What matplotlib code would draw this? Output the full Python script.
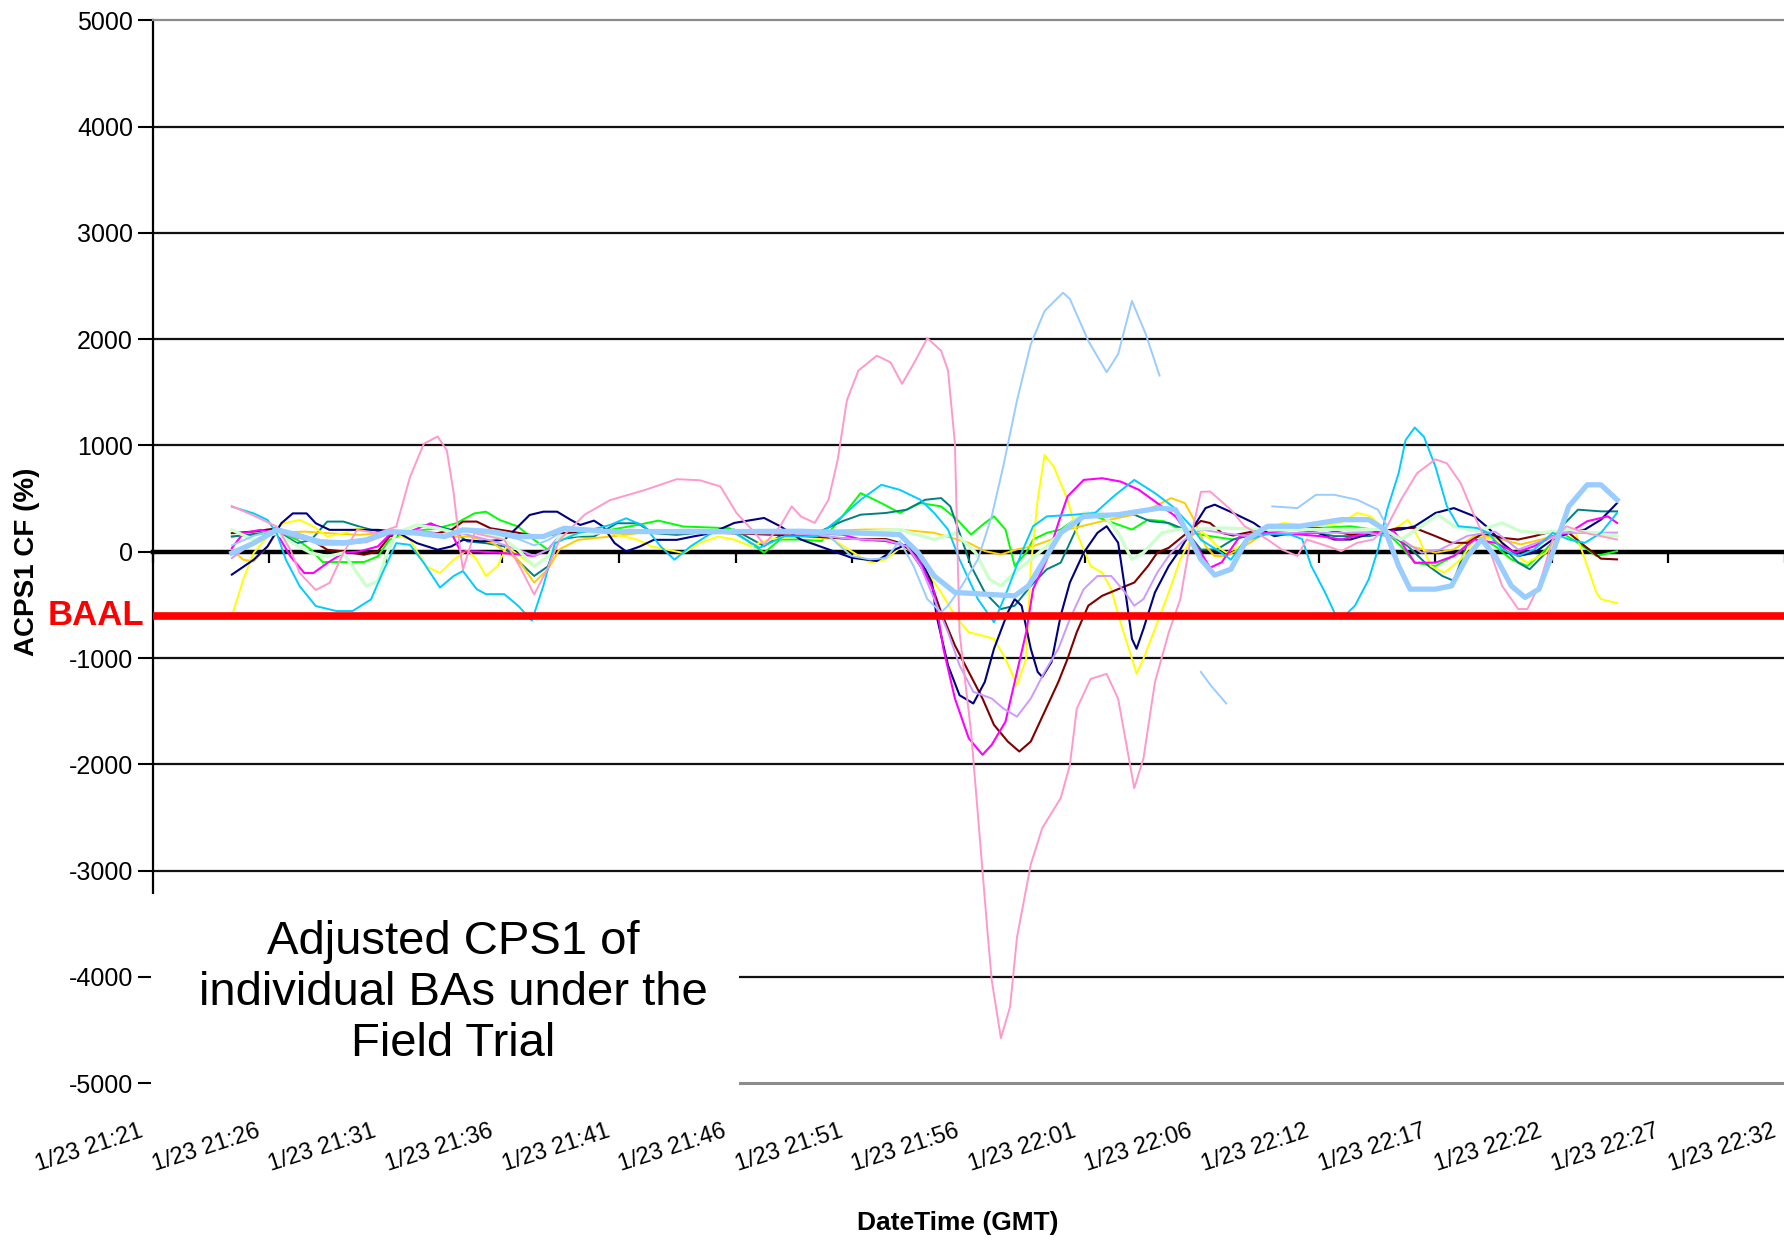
import numpy as np
import matplotlib
matplotlib.use("Agg")
import matplotlib.pyplot as plt
from matplotlib.patches import Rectangle
from matplotlib.transforms import blended_transform_factory, ScaledTranslation

plt.rcParams["font.family"] = ["Liberation Sans", "DejaVu Sans"]

# ============================================================
# DATA  (x = minutes after 1/23 21:21 GMT, y = ACPS1 CF %)
# ============================================================

tick_labels = [
    "1/23 21:21", "1/23 21:26", "1/23 21:31", "1/23 21:36", "1/23 21:41",
    "1/23 21:46", "1/23 21:51", "1/23 21:56", "1/23 22:01", "1/23 22:06",
    "1/23 22:12", "1/23 22:17", "1/23 22:22", "1/23 22:27", "1/23 22:32",
]
span_minutes = 71

baal = -600

nan = float("nan")

pink = [(3.45, 430), (4.4, 340), (5.4, 237), (6.0, 19), (6.4, -200), (7.1, -360), (7.7, -293),
        (8.3, -12), (8.9, 206), (9.8, 175), (10.6, 237), (11.2, 704), (11.8, 1016), (12.4, 1085),
        (12.8, 954), (13.1, 549), (13.4, -12), (13.5, -168), (14.0, 175), (15.3, 112), (16.0, -150),
        (16.6, -402), (17.2, -150), (17.7, 112), (18.8, 350), (19.9, 486), (21.4, 580), (22.8, 683),
        (23.8, 673), (24.7, 614), (25.4, 365), (26.2, 178), (26.6, 69), (27.3, 240), (27.8, 427),
        (28.2, 333), (28.8, 271), (29.4, 489), (29.8, 863), (30.2, 1424), (30.7, 1705), (31.5, 1845),
        (32.1, 1783), (32.6, 1580), (33.1, 1767), (33.7, 2010), (34.3, 1892), (34.6, 1705),
        (34.9, 1019), (35.1, -757), (35.6, -1693), (35.9, -2475), (36.1, -3001), (36.3, -3534),
        (36.5, -4030), (36.9, -4578), (37.3, -4282), (37.6, -3628), (38.2, -2942), (38.7, -2600),
        (39.5, -2319), (39.9, -2007), (40.2, -1477), (40.8, -1197), (41.5, -1150), (42.0, -1384),
        (42.7, -2225), (43.1, -1945), (43.6, -1228), (44.2, -760), (44.7, -449), (45.2, 175),
        (45.6, 564), (46.0, 567), (46.9, 396), (47.5, 240), (48.5, 115), (49.1, 22), (49.8, -40),
        (50.2, 115), (51.1, 53), (51.7, 6), (52.4, 84), (53.1, 115), (53.7, 240), (54.3, 489),
        (55.0, 739), (55.8, 870), (56.3, 832), (56.9, 645), (57.5, 334), (58.1, 53), (58.7, -321),
        (59.4, -539), (59.8, -539), (60.3, -321), (60.9, 115), (61.5, 240), (62.3, 178), (63.7, 115)]

lightblue = [(3.45, 60), (4.4, 150), (5.4, 210), (6.3, 170), (7.3, 110), (8.3, 100), (9.3, 120),
             (10.3, 200), (11.5, 190), (12.7, 150), (13.5, 200), (14.8, 170), (15.9, 120), (16.6, 60),
             (17.2, 110), (17.9, 200), (19.9, 190), (22.8, 190), (25.1, 190), (28.2, 190), (29.4, 150),
             (30.4, -40), (31.2, -72), (31.9, -60), (32.5, 100), (33.1, -134), (33.7, -446),
             (34.3, -570), (34.6, -508), (35.2, -321), (35.9, -72), (36.5, 333), (37.0, 801),
             (37.6, 1424), (38.2, 1954), (38.8, 2266), (39.6, 2438), (39.9, 2380), (40.7, 1985),
             (41.5, 1689), (42.0, 1861), (42.6, 2360), (43.2, 2048), (43.8, 1658), (44.0, nan),
             (45.6, -1131), (46.0, -1250), (46.7, -1428), (47.0, nan),
             (48.7, 427), (49.8, 411), (50.6, 536), (51.4, 536), (52.4, 489), (53.3, 396), (53.7, 240)]

lightblue_thick = [(3.45, -12), (4.4, 81), (5.4, 206), (6.3, 159), (7.3, 81), (8.3, 81), (9.3, 112),
                   (10.3, 190), (11.5, 175), (12.7, 143), (13.5, 206), (14.8, 190), (15.9, 143),
                   (17.0, 143), (17.9, 221), (19.9, 190), (22.8, 190), (25.1, 190), (28.2, 193),
                   (30.4, 178), (32.5, 162), (33.3, -9), (34.0, -228), (34.9, -383), (36.2, -399),
                   (37.5, -415), (38.1, -321), (38.8, -72), (39.5, 178), (40.5, 333), (42.0, 349),
                   (43.8, 411), (44.5, 396), (45.0, 178), (45.6, -72), (46.2, -220), (46.9, -165),
                   (47.6, 115), (48.5, 240), (49.9, 240), (51.7, 302), (52.9, 302), (53.6, 209),
                   (54.2, -134), (54.7, -352), (55.8, -352), (56.5, -321), (57.2, -40), (57.8, 115),
                   (58.4, -40), (59.1, -321), (59.7, -430), (60.3, -352), (60.9, -9), (61.6, 427),
                   (62.4, 630), (63.0, 630), (63.7, 489)]

cyan = [(3.45, 424), (4.4, 361), (5.0, 299), (5.4, 175), (5.8, -75), (6.4, -324), (7.1, -511),
        (8.0, -558), (8.7, -558), (9.5, -449), (10.0, -200), (10.6, 81), (11.2, 65), (11.8, -106),
        (12.5, -337), (13.1, -228), (13.5, -181), (14.1, -352), (14.5, -399), (15.3, -399),
        (15.9, -508), (16.5, -648), (17.0, -321), (17.5, 81), (18.5, 175), (19.9, 252), (20.6, 315),
        (21.4, 240), (22.1, 50), (22.7, -75), (23.4, 50), (24.3, 175), (25.3, 178), (26.4, 37),
        (27.5, 146), (28.9, 146), (30.0, 333), (30.8, 489), (31.7, 630), (32.5, 583), (33.4, 489),
        (34.0, 365), (34.6, 209), (35.1, -72), (35.9, -446), (36.6, -664), (37.2, -352), (37.8, -9),
        (38.3, 240), (38.9, 333), (40.1, 349), (41.0, 365), (41.8, 521), (42.7, 676), (43.6, 552),
        (44.4, 421), (45.2, 234), (45.6, 112), (46.5, -9), (46.9, -75), (47.5, 100), (48.5, 170),
        (49.5, 160), (50.0, 120), (50.4, -134), (51.0, -383), (51.4, -570), (51.7, -633),
        (52.3, -508), (52.9, -259), (53.3, 22), (53.7, 396), (54.2, 739), (54.5, 1050), (54.9, 1169),
        (55.3, 1082), (55.8, 801), (56.3, 427), (56.8, 240), (57.6, 224), (58.1, 178), (58.7, 22),
        (59.4, -40), (60.1, 22), (60.9, 178), (61.6, 115), (62.3, 84), (63.0, 178), (63.7, 365)]

navy = [(3.45, -215), (4.4, -75), (5.0, 50), (5.6, 268), (6.1, 361), (6.7, 361), (7.1, 268),
        (7.7, 206), (8.6, 206), (9.8, 206), (10.6, 190), (11.5, 81), (12.4, 19), (13.0, 50),
        (13.5, 112), (14.3, 97), (15.3, 112), (15.9, 237), (16.4, 346), (17.0, 377), (17.6, 377),
        (18.2, 299), (18.6, 252), (19.2, 293), (19.6, 237), (20.1, 81), (20.6, 3), (21.2, 50),
        (21.8, 112), (22.8, 112), (23.5, 143), (24.3, 175), (25.3, 271), (26.6, 318), (27.3, 240),
        (28.2, 115), (29.4, 22), (30.4, -56), (31.5, -87), (32.3, 22), (32.8, 69), (33.4, -72),
        (33.9, -290), (34.1, -602), (34.6, -1069), (35.1, -1350), (35.7, -1428), (36.2, -1225),
        (36.6, -913), (37.2, -570), (37.5, -446), (37.8, -508), (38.2, -913), (38.5, -1131),
        (38.7, -1178), (39.1, -1038), (39.5, -602), (39.9, -290), (40.5, -9), (41.1, 178),
        (41.5, 240), (42.0, 84), (42.3, -352), (42.6, -820), (42.8, -913), (43.1, -726),
        (43.6, -383), (44.2, -134), (44.7, 22), (45.3, 240), (45.8, 411), (46.2, 443), (47.0, 365),
        (47.9, 271), (48.5, 178), (48.8, 147), (49.2, 162), (49.9, 178), (50.7, 178), (51.4, 115),
        (52.1, 115), (53.3, 193), (54.3, 209), (54.9, 240), (55.8, 365), (56.6, 411), (57.5, 333),
        (58.1, 224), (58.7, 84), (59.4, -40), (60.1, -9), (60.9, 115), (61.6, 178), (62.3, 209),
        (63.0, 302), (63.7, 458)]

magenta = [(3.45, 34), (3.95, 175), (4.7, 206), (5.4, 175), (6.0, -44), (6.6, -200), (7.0, -200),
           (7.6, -106), (8.3, -12), (9.0, 3), (9.8, 50), (10.3, 159), (11.2, 190), (12.1, 268),
           (13.0, 175), (13.4, 3), (14.1, 3), (15.1, -9), (15.9, -25), (16.6, -40), (17.2, 22),
           (17.7, 143), (19.2, 178), (21.4, 193), (23.5, 178), (25.3, 178), (28.2, 178), (30.0, 162),
           (30.8, 115), (31.9, 100), (32.8, 53), (33.4, -103), (34.0, -383), (34.4, -913),
           (34.9, -1381), (35.5, -1755), (36.1, -1911), (36.5, -1817), (37.1, -1599), (37.5, -1225),
           (38.0, -757), (38.3, -352), (38.9, -72), (39.4, 271), (39.8, 521), (40.5, 676), (41.3, 692),
           (42.1, 661), (42.9, 583), (43.7, 458), (44.5, 333), (45.0, 178), (45.6, -9), (46.0, -150),
           (46.5, -100), (47.3, 147), (48.5, 178), (49.9, 162), (50.8, 147), (51.7, 115), (52.9, 178),
           (54.0, 193), (54.9, -103), (55.8, -103), (56.6, -40), (57.5, 115), (58.4, 84), (59.3, -9),
           (60.1, 53), (60.9, 147), (61.6, 178), (62.4, 287), (63.3, 333), (63.7, 271)]

brown = [(3.45, 175), (4.4, 190), (5.4, 221), (6.1, 175), (6.9, 112), (7.6, 19), (8.3, 3), (9.2, -28),
         (9.8, 3), (10.3, 143), (11.2, 190), (12.4, 175), (13.0, 206), (13.5, 284), (14.1, 284),
         (14.7, 221), (15.6, 190), (16.4, 159), (17.0, 143), (17.7, 175), (19.9, 190), (22.8, 190),
         (25.1, 175), (28.2, 150), (30.4, 120), (31.9, 120), (32.5, 84), (32.9, 22), (33.4, -134),
         (33.9, -321), (34.3, -570), (34.9, -882), (35.5, -1131), (36.1, -1381), (36.6, -1630),
         (37.2, -1786), (37.7, -1880), (38.2, -1786), (38.8, -1506), (39.4, -1225), (39.8, -1007),
         (40.2, -757), (40.7, -508), (41.3, -415), (42.0, -352), (42.7, -290), (43.3, -134),
         (43.7, -9), (44.2, 37), (45.0, 178), (45.6, 290), (46.0, 270), (46.5, 178), (47.0, 153),
         (47.9, 193), (49.2, 224), (50.7, 224), (52.1, 162), (53.3, 178), (54.2, 224), (54.9, 224),
         (55.8, 147), (56.5, 84), (57.2, 84), (57.9, 178), (58.7, 131), (59.4, 115), (60.1, 147),
         (60.9, 193), (61.6, 178), (62.3, 53), (63.0, -65), (63.7, -72)]

yellow = [(3.5, -570), (3.95, -259), (4.4, -12), (5.0, 143), (5.7, 268), (6.4, 299), (7.0, 237),
          (7.6, 143), (8.3, 175), (9.0, 221), (9.8, 175), (10.3, 190), (11.2, 112), (11.9, -137),
          (12.5, -200), (13.1, -75), (13.7, 19), (14.1, -75), (14.5, -228), (15.0, -137), (15.4, 50),
          (16.0, -44), (16.6, -137), (17.2, -44), (17.7, 112), (18.5, 175), (19.9, 175), (21.1, 112),
          (21.7, 50), (22.4, 19), (23.1, -12), (23.8, 81), (24.6, 143), (25.3, 115), (26.0, 53),
          (26.8, 115), (28.2, 146), (29.6, 115), (30.5, -9), (31.2, -103), (31.9, -72), (32.6, 53),
          (33.1, -9), (33.7, -196), (34.3, -383), (34.9, -602), (35.5, -757), (36.1, -789),
          (36.6, -820), (37.1, -1007), (37.6, -1256), (38.0, -1007), (38.2, -134), (38.5, 489),
          (38.8, 910), (39.2, 801), (39.8, 489), (40.2, 178), (40.8, -134), (41.3, -196), (41.7, -352),
          (42.1, -664), (42.6, -1007), (42.8, -1147), (43.1, -1007), (43.6, -726), (44.2, -383),
          (44.7, -72), (45.3, 178), (45.6, 200), (46.0, 120), (46.3, 53), (46.7, -9), (47.3, 53),
          (48.2, 209), (49.2, 271), (50.4, 240), (51.7, 271), (52.4, 365), (53.0, 333), (53.7, 178),
          (54.2, 240), (54.6, 302), (55.1, 115), (55.6, -134), (56.2, -196), (56.9, -72), (57.6, 147),
          (58.4, 115), (59.1, -9), (59.8, -103), (60.6, -9), (61.2, 178), (61.9, 178), (62.3, -72),
          (62.8, -383), (63.0, -446), (63.7, -483)]

green = [(3.45, 143), (4.4, 159), (5.4, 190), (6.3, 112), (6.9, 19), (7.4, -97), (8.3, -97), (9.2, -97),
         (9.8, -44), (10.3, 112), (11.2, 190), (12.4, 221), (13.2, 268), (14.0, 361), (14.5, 377),
         (15.1, 299), (15.9, 237), (16.6, 112), (17.2, 19), (17.6, 112), (18.5, 175), (19.9, 206),
         (21.1, 252), (22.0, 293), (23.1, 237), (24.3, 228), (25.1, 221), (25.6, 146), (26.6, -9),
         (27.3, 115), (28.2, 115), (29.1, 100), (30.0, 333), (30.8, 552), (31.7, 458), (32.5, 365),
         (33.4, 458), (34.3, 427), (35.0, 302), (35.6, 162), (36.2, 271), (36.6, 333), (37.1, 209),
         (37.5, -134), (38.0, -9), (38.3, 115), (38.9, 178), (39.5, 209), (40.1, 302), (41.0, 333),
         (41.8, 271), (42.6, 209), (43.3, 302), (44.0, 287), (44.7, 209), (45.6, 160), (46.0, 147),
         (47.0, 115), (47.9, 178), (49.2, 224), (50.7, 224), (52.1, 240), (53.6, 193), (54.3, 53),
         (54.9, -103), (55.8, -134), (56.6, -40), (57.6, 147), (58.4, 53), (59.1, -72), (59.8, -134),
         (60.6, 22), (61.3, 178), (62.0, 84), (62.8, -40), (63.7, 6)]

teal = [(3.45, 143), (4.7, 175), (5.4, 190), (6.3, 81), (6.9, 112), (7.6, 284), (8.3, 284), (9.0, 237),
        (9.8, 190), (10.6, 175), (11.5, 252), (12.2, 252), (13.0, 206), (13.7, 97), (14.5, 81),
        (15.3, 50), (16.0, -106), (16.6, -228), (17.2, -137), (17.6, 112), (18.5, 143), (19.2, 143),
        (20.2, 268), (21.1, 268), (21.8, 175), (22.8, 159), (24.3, 190), (25.3, 209), (26.6, 53),
        (27.5, 178), (28.9, 178), (30.0, 287), (30.8, 349), (31.9, 365), (32.8, 396), (33.6, 489),
        (34.3, 505), (34.7, 427), (35.1, 178), (35.6, -134), (36.2, -383), (36.9, -539), (37.5, -508),
        (38.2, -321), (38.9, -165), (39.5, -103), (40.1, 178), (40.5, 365), (41.3, 333), (42.7, 349),
        (43.4, 287), (44.2, 271), (44.9, 209), (45.6, 20), (46.3, 22), (47.0, 115), (48.5, 193),
        (49.9, 209), (51.4, 147), (52.9, 147), (53.7, 178), (54.6, 53), (55.5, -134), (56.1, -228),
        (56.6, -274), (57.2, 84), (57.9, 178), (58.7, 53), (59.4, -103), (59.9, -165), (60.6, -9),
        (61.3, 240), (62.0, 396), (63.0, 380), (63.7, 380)]

orange = [(3.45, 19), (3.95, -75), (4.4, -90), (5.0, 50), (5.4, 175), (6.6, 190), (7.6, 175), (9.0, 159),
          (10.0, 175), (11.2, 175), (12.7, 143), (13.8, 143), (14.8, 81), (15.9, -75), (16.6, -290),
          (17.2, -165), (17.7, 22), (18.5, 112), (19.9, 143), (21.1, 175), (22.1, 190), (23.1, 200),
          (24.3, 175), (25.3, 178), (28.2, 190), (31.0, 209), (32.5, 209), (34.0, 178), (35.5, 84),
          (36.2, 6), (36.9, -25), (37.6, 22), (38.3, 53), (39.1, 115), (39.8, 209), (41.3, 287),
          (42.7, 349), (43.6, 427), (44.3, 505), (44.9, 458), (45.3, 302), (45.8, 53), (46.2, -40),
          (46.7, -40), (47.5, 53), (48.5, 193), (49.9, 224), (51.4, 209), (52.9, 193), (54.0, 178),
          (54.7, 53), (55.8, -9), (56.6, 22), (57.6, 162), (58.7, 115), (59.5, 69), (60.4, 115),
          (61.3, 178), (62.3, 178), (63.7, 147)]

lightgreen = [(3.45, 206), (4.4, 112), (5.4, 175), (6.1, 81), (6.9, -12), (7.6, -44), (8.3, -12),
              (8.9, -200), (9.3, -324), (9.8, -277), (10.2, -12), (10.6, 175), (11.5, 252), (12.4, 221),
              (13.2, 175), (14.1, 190), (15.1, 143), (15.9, 19), (16.6, -137), (17.2, -44), (17.7, 143),
              (19.9, 190), (22.8, 190), (25.1, 190), (28.2, 190), (30.4, 180), (32.5, 209), (34.0, 115),
              (34.9, 178), (35.8, -9), (36.4, -259), (36.9, -321), (37.5, -196), (38.2, -72), (38.9, 53),
              (39.8, 240), (40.5, 365), (41.3, 365), (42.0, 178), (42.6, -72), (43.1, -9), (43.9, 178),
              (44.6, 209), (45.6, 215), (46.5, 224), (48.5, 210), (51.4, 210), (53.6, 210), (54.3, 115),
              (55.2, 240), (55.9, 349), (56.6, 240), (57.6, 193), (58.7, 271), (59.5, 193), (60.4, 178),
              (61.6, 209), (63.7, 147)]

lavender = [(3.45, -60), (4.4, 90), (5.4, 190), (6.3, 130), (7.3, 90), (8.3, 70), (9.3, 90), (10.3, 170),
            (11.5, 200), (12.7, 160), (13.5, 170), (14.8, 100), (15.9, 20), (16.6, -40), (17.2, 20),
            (17.7, 150), (19.9, 180), (22.8, 175), (25.1, 175), (28.2, 170), (30.4, 120), (31.9, 110),
            (32.8, 53), (33.4, -134), (34.0, -446), (34.6, -757), (35.1, -1069), (35.7, -1318),
            (36.5, -1381), (37.0, -1474), (37.6, -1552), (38.2, -1381), (38.8, -1131), (39.4, -913),
            (39.9, -633), (40.5, -352), (41.1, -228), (41.7, -228), (42.3, -383), (42.7, -508),
            (43.1, -446), (43.7, -196), (44.3, -9), (44.9, 115), (45.6, 209), (46.5, 178), (47.5, 150),
            (49.9, 180), (52.9, 178), (54.3, 120), (55.2, -9), (56.0, 20), (57.2, 150), (58.4, 190),
            (59.4, 20), (60.4, 100), (61.3, 178), (63.7, 180)]

# ============================================================
# STYLES  (drawing order, colour, width)
# ============================================================

series = [
    (green, "#00FF00", 1.4),
    (teal, "#008080", 1.4),
    (orange, "#FFCC00", 1.4),
    (yellow, "#FFFF00", 1.4),
    (brown, "#800000", 1.5),
    (navy, "#000080", 1.5),
    (magenta, "#FF00FF", 1.5),
    (lavender, "#CC99FF", 1.4),
    (lightgreen, "#CCFFCC", 2.4),
    (cyan, "#00CCFF", 1.4),
    (pink, "#FF99CC", 1.4),
    (lightblue, "#99CCFF", 1.4),
    (lightblue_thick, "#99CCFF", 3.8),
]

# ============================================================
# FIGURE
# ============================================================

fig = plt.figure(figsize=(17.84, 12.41), dpi=100)
ax = fig.add_axes([0.0855, 0.1273, 0.9150, 0.8562])

ax.set_xlim(0, span_minutes)
ax.set_ylim(-5000, 5000)

yticks = np.arange(-5000, 5001, 1000)
ax.set_yticks(yticks)
ax.set_yticklabels([str(v) for v in yticks])

for v in yticks:
    if abs(v) < 5000 and v != 0:
        ax.axhline(v, color="#111111", lw=1.6, zorder=1)

# zero line acts as the category axis
xticks = np.arange(len(tick_labels)) * span_minutes / (len(tick_labels) - 1)
ax.set_xticks(xticks)
ax.spines["bottom"].set_position(("data", 0))
ax.spines["bottom"].set_linewidth(3.2)
ax.spines["bottom"].set_color("black")
ax.spines["bottom"].set_zorder(1.5)
ax.tick_params(axis="x", direction="out", length=8, width=1.6,
               labelbottom=False, color="black")

ax.spines["top"].set_color("#8c8c8c")
ax.spines["top"].set_linewidth(1.6)
ax.spines["right"].set_visible(False)
ax.spines["left"].set_linewidth(1.6)
ax.axhline(-5000, color="#8c8c8c", lw=2.2, zorder=1, clip_on=False)

ax.tick_params(axis="y", direction="out", length=11, width=1.5,
               labelsize=18, pad=3)

for data, color, lw in series:
    t = [p[0] for p in data]
    v = [p[1] for p in data]
    ax.plot(t, v, color=color, lw=lw, solid_joinstyle="round", zorder=2)

# BAAL
ax.axhline(baal, color="#FF0000", lw=5.5, zorder=3)
ax.text(0, baal, "BAAL", transform=blended_transform_factory(ax.transAxes, ax.transData)
        + ScaledTranslation(-0.08, 0, fig.dpi_scale_trans),
        ha="right", va="center", color="#FF0000", fontsize=25, fontweight="bold")

# rotated category labels under the plot area
lab_trans = blended_transform_factory(ax.transData, ax.transAxes) + \
    ScaledTranslation(-0.10, -0.48, fig.dpi_scale_trans)
for x, lab in zip(xticks, tick_labels):
    ax.text(x, 0, lab, transform=lab_trans, rotation=18, rotation_mode="anchor",
            ha="right", va="center", fontsize=17, clip_on=False)

fig.text(0.015, 0.547, "ACPS1 CF (%)", rotation=90, ha="center", va="center",
         fontsize=20, fontweight="bold")
fig.text(0.537, 0.0145, "DateTime (GMT)", ha="center", va="center",
         fontsize=19, fontweight="bold")

# annotation box
fig.patches.append(Rectangle((0.0845, 0.120), 0.3300, 0.160, transform=fig.transFigure,
                             facecolor="white", edgecolor="none", zorder=5))
fig.text(0.254, 0.200, "Adjusted CPS1 of\nindividual BAs under the\nField Trial",
         ha="center", va="center", fontsize=34, linespacing=1.2, zorder=6)

fig.savefig("out.png", dpi=100)
